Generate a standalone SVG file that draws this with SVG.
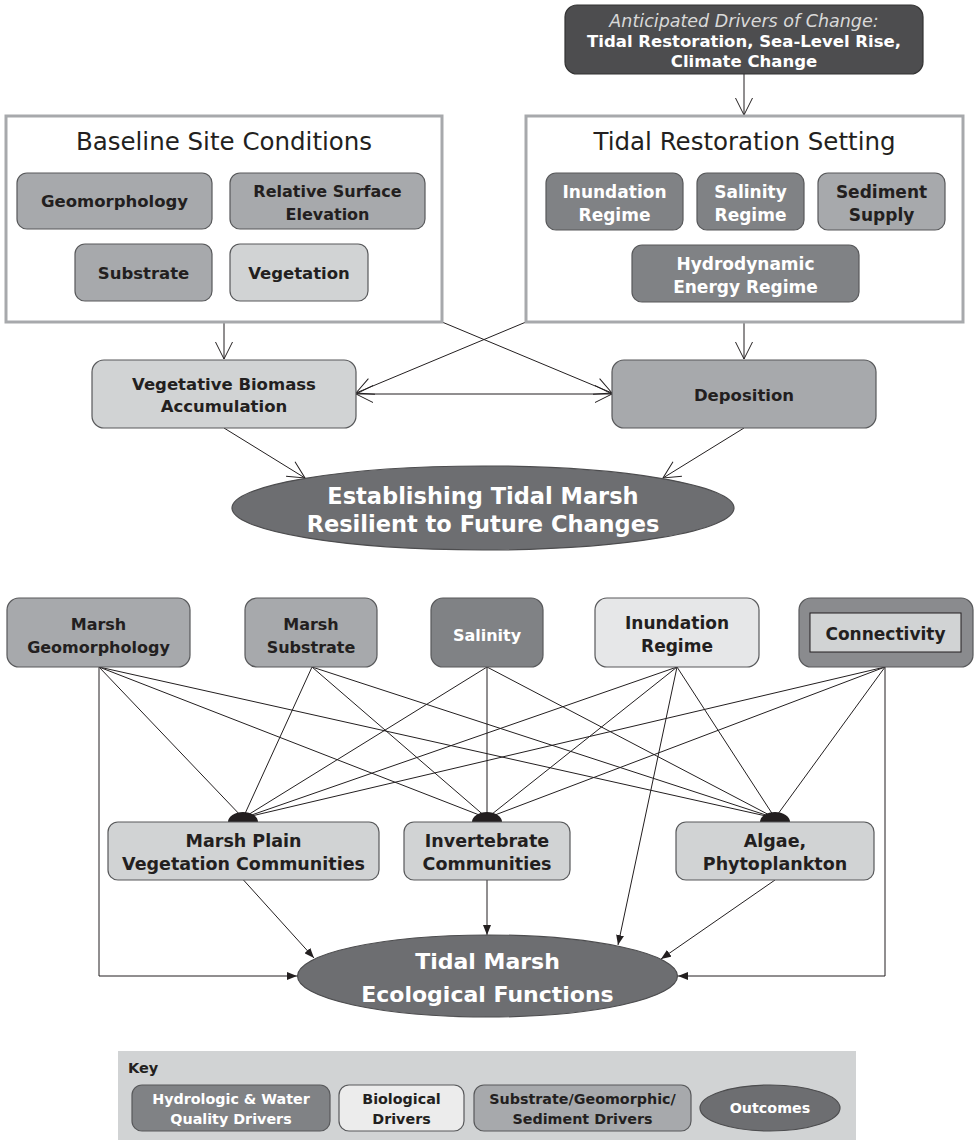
<svg xmlns="http://www.w3.org/2000/svg" width="977" height="1140" viewBox="0 0 977 1140">
<style>
.t{font-family:"DejaVu Sans",Verdana,sans-serif;font-weight:bold;text-anchor:middle;}
.dk{fill:#231f20}.wt{fill:#ffffff}
.ttl{font-family:"DejaVu Sans",Verdana,sans-serif;font-weight:normal;text-anchor:middle;fill:#231f20;font-size:24.5px}
.frame{fill:#ffffff;stroke:#a7a9ac;stroke-width:3}
.hyd{fill:#808285;stroke:#58595b;stroke-width:1.2}
.sub{fill:#a7a9ac;stroke:#58595b;stroke-width:1.2}
.bio{fill:#d1d3d4;stroke:#58595b;stroke-width:1.2}
.bio2{fill:#e6e7e8;stroke:#58595b;stroke-width:1.2}
.out{fill:#6d6e71;stroke:#4d4d4f;stroke-width:1.2}
.ln{fill:none;stroke:#231f20;stroke-width:1}
.oa{marker-end:url(#open)}
.fa{marker-end:url(#fill)}
</style>
<defs>
<marker id="open" viewBox="0 0 17 17" refX="17" refY="8.5" markerWidth="17" markerHeight="17" markerUnits="userSpaceOnUse" orient="auto-start-reverse" overflow="visible">
<path d="M0,0 L17,8.5 L0,17" fill="none" stroke="#231f20" stroke-width="1"/>
</marker>
<marker id="fill" viewBox="0 0 10 8" refX="10" refY="4" markerWidth="10" markerHeight="8" markerUnits="userSpaceOnUse" orient="auto">
<path d="M0,0 L10,4 L0,8 Z" fill="#231f20"/>
</marker>
</defs>

<g id="connectors">
<line class="ln oa" x1="744" y1="74" x2="744" y2="115"/>
<line class="ln oa" x1="224" y1="322" x2="224" y2="359"/>
<line class="ln oa" x1="744" y1="322" x2="744" y2="359"/>
<line class="ln oa" x1="442" y1="322" x2="612" y2="393"/>
<line class="ln oa" x1="526" y1="322" x2="356" y2="393"/>
<line class="ln oa" x1="356" y1="394" x2="612" y2="394" marker-start="url(#open)"/>
<line class="ln oa" x1="224" y1="428" x2="305" y2="478"/>
<line class="ln oa" x1="744" y1="428" x2="663" y2="478"/>

<line class="ln" x1="99" y1="667" x2="243" y2="818"/>
<line class="ln" x1="99" y1="667" x2="487" y2="818"/>
<line class="ln" x1="99" y1="667" x2="775" y2="818"/>
<line class="ln" x1="312" y1="667" x2="243" y2="818"/>
<line class="ln" x1="312" y1="667" x2="487" y2="818"/>
<line class="ln" x1="312" y1="667" x2="775" y2="818"/>
<line class="ln" x1="487" y1="667" x2="243" y2="818"/>
<line class="ln" x1="487" y1="667" x2="487" y2="818"/>
<line class="ln" x1="487" y1="667" x2="775" y2="818"/>
<line class="ln" x1="677" y1="667" x2="243" y2="818"/>
<line class="ln" x1="677" y1="667" x2="487" y2="818"/>
<line class="ln" x1="677" y1="667" x2="775" y2="818"/>
<line class="ln" x1="885" y1="667" x2="243" y2="818"/>
<line class="ln" x1="885" y1="667" x2="487" y2="818"/>
<line class="ln" x1="885" y1="667" x2="775" y2="818"/>
<line class="ln fa" x1="677" y1="667" x2="618" y2="945"/>
<polyline class="ln fa" points="99,667 99,976 297,976"/>
<polyline class="ln fa" points="885,667 885,976 678,976"/>
<line class="ln fa" x1="243.5" y1="880" x2="314" y2="958"/>
<line class="ln fa" x1="487" y1="880" x2="487" y2="935"/>
<line class="ln fa" x1="775" y1="880" x2="661" y2="959"/>
<path d="M228,822 A15,10 0 0 1 258,822 Z" fill="#231f20"/>
<path d="M472,822 A15,10 0 0 1 502,822 Z" fill="#231f20"/>
<path d="M760,822 A15,10 0 0 1 790,822 Z" fill="#231f20"/>
</g>

<g id="drivers">
<rect x="565" y="5" width="358" height="69" rx="12" fill="#4d4d4f" stroke="#333333" stroke-width="1.2"/>
<text x="744" y="27" font-family="DejaVu Sans,Verdana,sans-serif" font-style="italic" font-size="17.5" text-anchor="middle" fill="#d9d9d9">Anticipated Drivers of Change:</text>
<text class="t wt" x="744" y="47" font-size="16.5">Tidal Restoration, Sea-Level Rise,</text>
<text class="t wt" x="744" y="67" font-size="16.5">Climate Change</text>
</g>

<g id="baseline">
<rect class="frame" x="6" y="116" width="436" height="206"/>
<text class="ttl" x="224" y="150">Baseline Site Conditions</text>
</g>
<g id="geomorphology"><rect class="sub" x="17" y="173" width="195" height="56" rx="10"/><text class="t dk" x="114.5" y="207" font-size="16.5">Geomorphology</text></g>
<g id="elevation"><rect class="sub" x="230" y="173" width="195" height="56" rx="10"/><text class="t dk" x="327.5" y="197" font-size="16">Relative Surface</text><text class="t dk" x="327.5" y="220" font-size="16">Elevation</text></g>
<g id="substrate"><rect class="sub" x="75" y="244" width="137" height="57" rx="10" fill="#9d9fa2"/><text class="t dk" x="143.5" y="279" font-size="16.5">Substrate</text></g>
<g id="vegetation"><rect class="bio" x="230" y="244" width="138" height="57" rx="10"/><text class="t dk" x="299" y="279" font-size="16.5">Vegetation</text></g>

<g id="tidal-setting">
<rect class="frame" x="526" y="116" width="437" height="206"/>
<text class="ttl" x="744.5" y="150">Tidal Restoration Setting</text>
</g>
<g id="inundation-regime"><rect class="hyd" x="546" y="173" width="137" height="57" rx="10"/><text class="t wt" x="614.5" y="198" font-size="17">Inundation</text><text class="t wt" x="614.5" y="221" font-size="17">Regime</text></g>
<g id="salinity-regime"><rect class="hyd" x="697" y="173" width="107" height="57" rx="10"/><text class="t wt" x="750.5" y="198" font-size="17">Salinity</text><text class="t wt" x="750.5" y="221" font-size="17">Regime</text></g>
<g id="sediment-supply"><rect class="sub" x="818" y="173" width="127" height="57" rx="10"/><text class="t dk" x="881.5" y="198" font-size="17">Sediment</text><text class="t dk" x="881.5" y="221" font-size="17">Supply</text></g>
<g id="hydrodynamic"><rect class="hyd" x="632" y="245" width="227" height="57" rx="10"/><text class="t wt" x="745.5" y="270" font-size="17">Hydrodynamic</text><text class="t wt" x="745.5" y="293" font-size="17">Energy Regime</text></g>

<g id="biomass"><rect class="bio" x="92" y="360" width="264" height="68" rx="12"/><text class="t dk" x="224" y="390" font-size="16.5">Vegetative Biomass</text><text class="t dk" x="224" y="412" font-size="16.5">Accumulation</text></g>
<g id="deposition"><rect class="sub" x="612" y="360" width="264" height="68" rx="12"/><text class="t dk" x="744" y="401" font-size="16.5">Deposition</text></g>
<g id="establishing"><ellipse class="out" cx="483" cy="508" rx="251" ry="42"/><text class="t wt" x="483" y="504" font-size="22.5">Establishing Tidal Marsh</text><text class="t wt" x="483" y="532" font-size="22.5">Resilient to Future Changes</text></g>

<g id="marsh-geomorphology"><rect class="sub" x="7" y="598" width="183" height="69" rx="12"/><text class="t dk" x="98.5" y="630" font-size="16">Marsh</text><text class="t dk" x="98.5" y="653" font-size="16">Geomorphology</text></g>
<g id="marsh-substrate"><rect class="sub" x="245" y="598" width="132" height="69" rx="12"/><text class="t dk" x="311" y="630" font-size="16">Marsh</text><text class="t dk" x="311" y="653" font-size="16">Substrate</text></g>
<g id="salinity"><rect class="hyd" x="431" y="598" width="112" height="69" rx="12" fill="#7a7b7e"/><text class="t wt" x="487" y="641" font-size="16">Salinity</text></g>
<g id="inundation"><rect class="bio2" x="595" y="598" width="164" height="69" rx="12"/><text class="t dk" x="677" y="629" font-size="17">Inundation</text><text class="t dk" x="677" y="652" font-size="17">Regime</text></g>
<g id="connectivity"><rect x="799" y="598" width="174" height="69" rx="12" fill="#8a8b8e" stroke="#58595b" stroke-width="1.2"/><rect x="810" y="613" width="151" height="39" fill="#d1d3d4" stroke="#231f20" stroke-width="1"/><text class="t dk" x="885.5" y="640" font-size="17">Connectivity</text></g>

<g id="marsh-plain"><rect class="bio" x="108" y="822" width="271" height="58" rx="10"/><text class="t dk" x="243.5" y="847" font-size="17.5">Marsh Plain</text><text class="t dk" x="243.5" y="870" font-size="17.5">Vegetation Communities</text></g>
<g id="invertebrate"><rect class="bio" x="404" y="822" width="166" height="58" rx="10"/><text class="t dk" x="487" y="847" font-size="17.5">Invertebrate</text><text class="t dk" x="487" y="870" font-size="17.5">Communities</text></g>
<g id="algae"><rect class="bio" x="676" y="822" width="198" height="58" rx="10"/><text class="t dk" x="775" y="847" font-size="17.5">Algae,</text><text class="t dk" x="775" y="870" font-size="17.5">Phytoplankton</text></g>
<g id="functions"><ellipse class="out" cx="487.5" cy="976" rx="190" ry="41"/><text class="t wt" x="487.5" y="969" font-size="22">Tidal Marsh</text><text class="t wt" x="487.5" y="1002" font-size="22">Ecological Functions</text></g>

<g id="key">
<rect x="118" y="1051" width="738" height="89" fill="#d1d3d4"/>
<text class="t dk" x="128" y="1073" font-size="14.5" style="text-anchor:start">Key</text>
<rect class="hyd" x="132" y="1085" width="198" height="46" rx="10"/>
<text class="t wt" x="231" y="1104" font-size="14.3">Hydrologic &amp; Water</text>
<text class="t wt" x="231" y="1124" font-size="14.3">Quality Drivers</text>
<rect class="bio2" x="339" y="1085" width="125" height="46" rx="10" style="fill:#ececec"/>
<text class="t dk" x="401.5" y="1104" font-size="14.3">Biological</text>
<text class="t dk" x="401.5" y="1124" font-size="14.3">Drivers</text>
<rect class="sub" x="474" y="1085" width="217" height="46" rx="10"/>
<text class="t dk" x="582.5" y="1104" font-size="14.3">Substrate/Geomorphic/</text>
<text class="t dk" x="582.5" y="1124" font-size="14.3">Sediment Drivers</text>
<ellipse class="out" cx="770" cy="1108" rx="70" ry="23"/>
<text class="t wt" x="770" y="1113" font-size="14.3">Outcomes</text>
</g>
</svg>
